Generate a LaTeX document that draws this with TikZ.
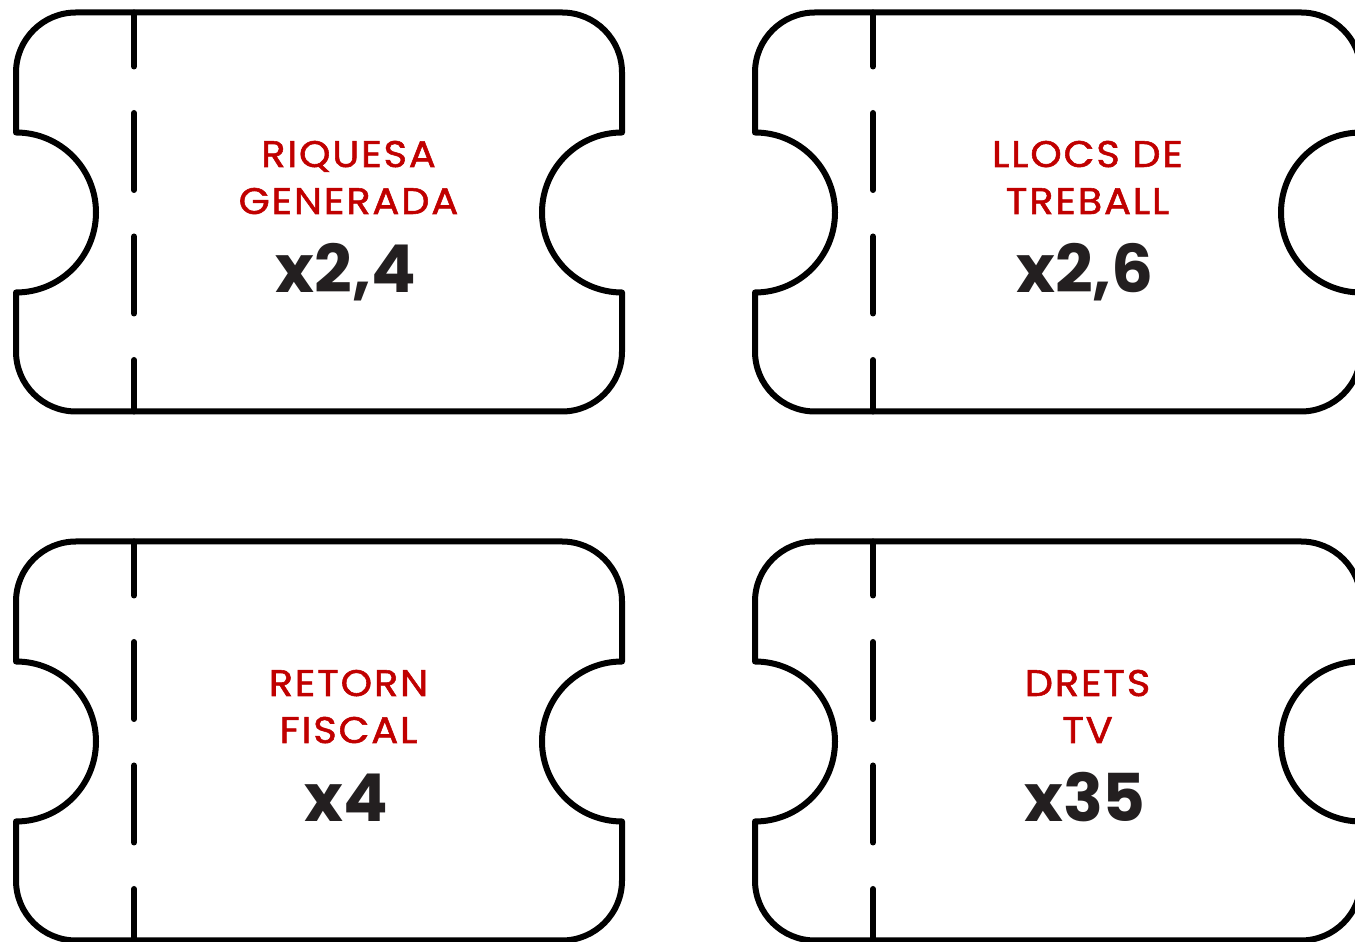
\documentclass[tikz,border=0pt]{standalone}
\usepackage{fontspec}
\setmainfont{Poppins}
\newfontfamily\ticketLabelFont[LetterSpace=5, FakeStretch=1.08, FakeBold=1.5]{Poppins}
\definecolor{ticketRed}{HTML}{C00000}
\definecolor{valueGrey}{HTML}{231F20}

\tikzstyle{ticketOutline}=[line width=6pt, line join=round]
\tikzstyle{perforation}=[line width=6pt, line cap=round, dash pattern=on 77pt off 46.5pt, dash phase=23pt]
\tikzstyle{labelText}=[anchor=base, inner sep=0pt, text=ticketRed, font=\ticketLabelFont\fontsize{37}{47}\selectfont]
\tikzstyle{valueText}=[anchor=base, inner sep=0pt, text=valueGrey, font=\fontsize{66}{70}\selectfont\bfseries]

\begin{document}
\begin{tikzpicture}[x=1pt,y=1pt]
		\useasboundingbox (0,0) rectangle (1355,942);
		
		\foreach \L/\T in {16/929.5, 755/929.5, 16/400.5, 755/400.5} {
			\draw[ticketOutline] (\L+60,\T) -- (\L+546,\T) arc[start angle=90,end angle=0,radius=60]
				-- (\L+606,\T-120) arc[start angle=90,end angle=270,radius=80]
				-- (\L+606,\T-339) arc[start angle=0,end angle=-90,radius=60]
				-- (\L+60,\T-399) arc[start angle=270,end angle=180,radius=60]
				-- (\L,\T-280) arc[start angle=-90,end angle=90,radius=80]
				-- (\L,\T-60) arc[start angle=180,end angle=90,radius=60] -- cycle;
			\draw[perforation] (\L+118,\T) -- (\L+118,\T-399);
		}
		
		\node[labelText] (riquesa) at (348.5, 775) {RIQUESA};
		\node[labelText] (generada) at (348.5, 728) {GENERADA};
		\node[valueText] (riquesaVal) at (346, 649) {x2,4};
		
		\node[labelText] (llocs) at (1087.5, 775) {LLOCS DE};
		\node[labelText] (treball) at (1087.5, 728) {TREBALL};
		\node[valueText] (llocsVal) at (1085, 649) {x2,6};
		
		\node[labelText] (retorn) at (348.5, 246) {RETORN};
		\node[labelText] (fiscal) at (348.5, 199) {FISCAL};
		\node[valueText] (retornVal) at (346, 120) {x4};
		
		\node[labelText] (drets) at (1087.5, 246) {DRETS};
		\node[labelText] (tv) at (1087.5, 199) {TV};
		\node[valueText] (dretsVal) at (1085, 120) {x35};
\end{tikzpicture}
\end{document}
